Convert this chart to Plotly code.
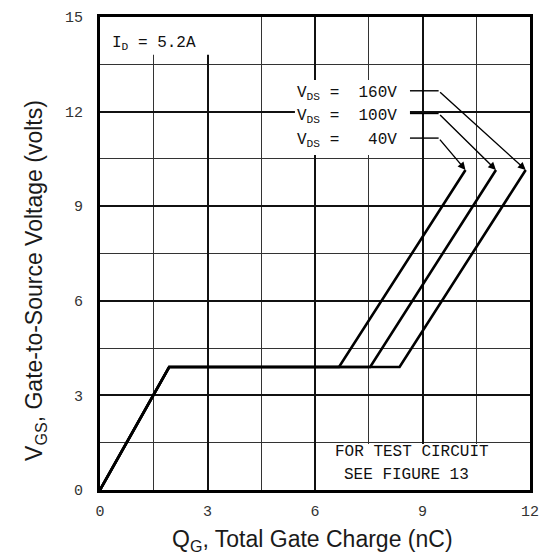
import plotly.graph_objects as go

# ---- data ----
vds_labels = ["160V", "100V", "40V"]
qg_160 = [0, 1.93, 8.36, 11.88]
qg_100 = [0, 1.93, 7.54, 11.05]
qg_40 = [0, 1.93, 6.67, 10.2]
vgs_curve = [0, 3.9, 3.9, 10.15]
x_ticks = [0, 3, 6, 9, 12]
y_ticks = [0, 3, 6, 9, 12, 15]

series = {"160V": qg_160, "100V": qg_100, "40V": qg_40}

fig = go.Figure()
for name in vds_labels:
    fig.add_trace(go.Scatter(x=series[name], y=vgs_curve, mode="lines",
                             line=dict(color="black", width=2.6),
                             name=name, showlegend=False, hoverinfo="skip"))

mono = "Liberation Mono"
sans = "Liberation Sans"

# label positions (layout)
label_y = {"160V": 12.66, "100V": 11.94, "40V": 11.16}
label_x = 5.44
lead_x0, lead_x1 = 8.65, 9.45

shapes = [
    # white masks over grid (drawn between grid and traces)
    dict(type="rect", xref="x", yref="y", x0=0, x1=4.0, y0=13.8, y1=15,
         fillcolor="white", line_width=0, layer="between"),
    dict(type="rect", xref="x", yref="y", x0=label_x, x1=lead_x0, y0=10.62, y1=13.0,
         fillcolor="white", line_width=0, layer="between"),
    dict(type="rect", xref="x", yref="y", x0=6.05, x1=12, y0=0, y1=1.46,
         fillcolor="white", line_width=0, layer="between"),
]

annotations = []
for name in vds_labels:
    ly = label_y[name]
    q = series[name]
    shapes.append(dict(type="line", xref="x", yref="y", x0=lead_x0, x1=lead_x1,
                       y0=ly, y1=ly, line=dict(color="black", width=1.4)))
    annotations.append(dict(x=q[-1], y=vgs_curve[-1], ax=lead_x1, ay=ly,
                            xref="x", yref="y", axref="x", ayref="y",
                            showarrow=True, arrowhead=2, arrowsize=1.1,
                            arrowwidth=1.4, arrowcolor="black", text=""))
    pad = "\u00a0" * (2 if len(name) == 4 else 3)
    annotations.append(dict(x=label_x, y=ly - 0.08, xref="x", yref="y",
                            xanchor="left", yanchor="middle", showarrow=False,
                            text="V<sub>DS</sub>\u00a0=" + pad + name,
                            font=dict(family=mono, size=16, color="#111")))

annotations += [
    dict(x=0.28, y=14.15, xref="x", yref="y", xanchor="left", yanchor="middle",
         showarrow=False, text="I<sub>D</sub>\u00a0=\u00a05.2A",
         font=dict(family=mono, size=16, color="#111")),
    dict(x=8.7, y=1.19, xref="x", yref="y", xanchor="center", yanchor="middle",
         showarrow=False, text="FOR TEST CIRCUIT",
         font=dict(family=mono, size=16, color="#111")),
    dict(x=8.56, y=0.47, xref="x", yref="y", xanchor="center", yanchor="middle",
         showarrow=False, text="SEE FIGURE 13",
         font=dict(family=mono, size=16, color="#111")),
    dict(x=0.494, y=-0.106, xref="paper", yref="paper", xanchor="center",
         yanchor="middle", showarrow=False,
         text="Q<sub>G</sub>, Total Gate Charge (nC)",
         font=dict(family=sans, size=23, color="#1a1a1a")),
    dict(x=-0.149, y=0.444, xref="paper", yref="paper", xanchor="center",
         yanchor="middle", showarrow=False, textangle=-90,
         text="V<sub>GS</sub>, Gate-to-Source Voltage (volts)",
         font=dict(family=sans, size=23, color="#1a1a1a")),
]

axis_common = dict(
    showline=True, linewidth=3, linecolor="black", mirror=True,
    showgrid=True, gridcolor="#111", gridwidth=2.4,
    zeroline=False, ticks="",
    tickfont=dict(family=mono, size=15, color="#333"),
)

fig.update_layout(
    width=549, height=557,
    margin=dict(l=100, r=14, t=10, b=67),
    paper_bgcolor="white", plot_bgcolor="white",
    shapes=shapes, annotations=annotations,
    xaxis=dict(range=[0, 12], tickmode="array", tickvals=x_ticks,
               ticklabelstandoff=5,
               minor=dict(tickmode="linear", tick0=0, dtick=1.5, showgrid=True,
                          gridcolor="#333", gridwidth=1.2, ticks=""),
               **axis_common),
    yaxis=dict(range=[0, 15], tickmode="array", tickvals=y_ticks,
               ticklabelstandoff=11,
               minor=dict(tickmode="linear", tick0=0, dtick=1.5, showgrid=True,
                          gridcolor="#333", gridwidth=1.2, ticks=""),
               **axis_common),
)

fig.write_html("out.html",
               config={"displayModeBar": False},
               post_script="document.body.style.margin='0';"
                           "document.body.style.overflow='hidden';")
